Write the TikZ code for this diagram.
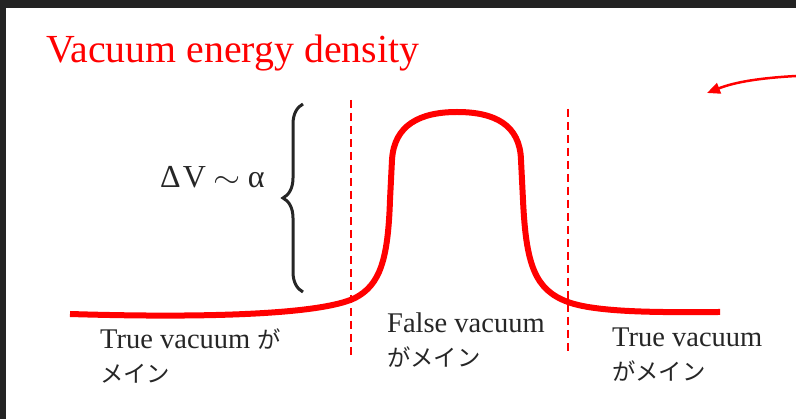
\documentclass[tikz,border=0pt]{standalone}
\usepackage{fontspec}
\setmainfont{Liberation Serif}
\newfontfamily\jpfont[Scale=0.82]{Noto Sans CJK JP}
\usepackage{tikz}
\usetikzlibrary{arrows.meta,positioning,decorations.pathreplacing}
\definecolor{framegray}{HTML}{232323}
\definecolor{textgray}{HTML}{262626}
\tikzset{
  regiontext/.style={text=textgray, align=left, inner sep=0pt, anchor=base west, font=\fontsize{28.5}{34}\selectfont},
  wallline/.style={red, line width=2pt, dash pattern=on 8pt off 5pt},
}

\begin{document}
\begin{tikzpicture}[x=1pt,y=-1pt]
\useasboundingbox (0,0) rectangle (796,419);
\fill[framegray] (0,0) rectangle (796,8);
\fill[framegray] (0,0) rectangle (6,419);
\node[anchor=base west, inner sep=0pt, text=red, font=\fontsize{39.8}{44}\selectfont] (title) at (46,63) {Vacuum energy density};
\coordinate (arrowstart) at (796,76);
\coordinate (arrowend) at (707,93);
\draw[red, line width=2.5pt, -{Triangle[length=13pt,width=11pt]}] (arrowstart) .. controls (760,78) and (735,82) .. (arrowend);
\node[anchor=base west, inner sep=0pt, text=textgray, font=\fontsize{32}{36}\selectfont] (dv) at (160,188) {Δ\kern2pt V\kern8pt\scalebox{1.4}[1.2]{$\sim$}\kern7pt α};
\coordinate (bracebot) at (303,292);
\coordinate (bracetop) at (303,104);
\draw[textgray, line width=3pt, decorate, decoration={brace, amplitude=20pt}] (bracebot) -- (bracetop);
\coordinate (lefttop) at (351,100);
\coordinate (leftbot) at (351,357);
\coordinate (righttop) at (568,109);
\coordinate (rightbot) at (568,355);
\draw[wallline] (lefttop) -- (leftbot);
\draw[wallline] (righttop) -- (rightbot);
\draw[red, line width=6pt] (70,314) .. controls (200,318) and (320,315) .. (355,298)
  .. controls (380,285) and (388,260) .. (390,200) -- (392,160)
  .. controls (394,125) and (420,112) .. (457,112)
  .. controls (495,112) and (520,125) .. (521,160) -- (523,200)
  .. controls (526,265) and (535,290) .. (568,302)
  .. controls (600,314) and (680,312) .. (720,312);
\node[regiontext] (truel) at (100,383) {True vacuum {\jpfont が}\\{\jpfont メイン}};
\node[regiontext] (falsev) at (387,367) {False vacuum\\{\jpfont がメイン}};
\node[regiontext] (truer) at (612,381) {True vacuum\\{\jpfont がメイン}};
\end{tikzpicture}
\end{document}
